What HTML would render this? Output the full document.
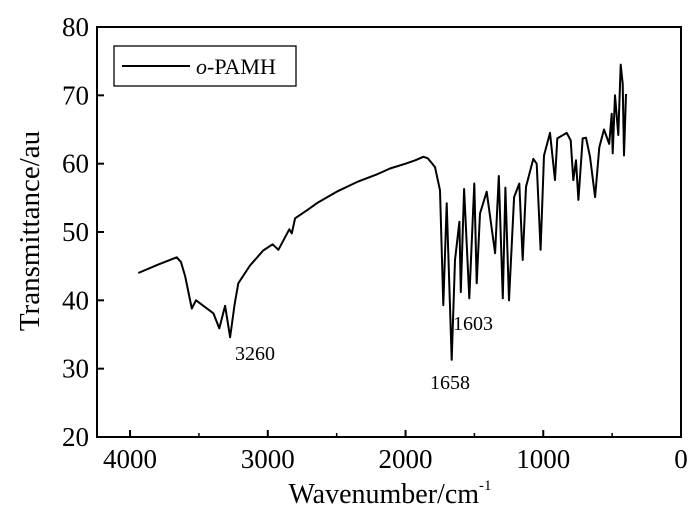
<!DOCTYPE html>
<html><head><meta charset="utf-8"><style>
html,body{margin:0;padding:0;background:#fff;}
svg{display:block;font-family:"Liberation Serif",serif;}
</style></head><body>
<svg id="chart" width="700" height="522" viewBox="0 0 700 522">
<g id="axes"></g>
<g id="series"></g>
<g>
<rect x="114" y="46" width="182" height="40" fill="#fff" stroke="#000" stroke-width="1.3"/>
<line x1="122" y1="66" x2="190" y2="66" stroke="#000" stroke-width="2"/>
<text x="196" y="74" font-size="22"><tspan font-style="italic">o</tspan>-PAMH</text>
</g>
<text x="235" y="360" font-size="20">3260</text>
<text x="430" y="389" font-size="20">1658</text>
<text x="453" y="330" font-size="20">1603</text>
<text transform="translate(39,231) rotate(-90)" text-anchor="middle" font-size="29">Transmittance/au</text>
<text x="390" y="503" text-anchor="middle" font-size="28">Wavenumber/cm<tspan font-size="15" dy="-13">-1</tspan></text>
</svg>
<script>
const xTicks=[4000,3000,2000,1000,0];
const yTicks=[20,30,40,50,60,70,80];
const wavenumbers=[3940,3800,3661,3630,3600,3552,3521,3395,3352,3310,3274,3240,3214,3129,3033,2965,2923,2844,2826,2802,2700,2645,2500,2354,2200,2113,2000,1930,1871,1840,1822,1786,1750,1726,1701,1665,1641,1609,1599,1575,1537,1501,1483,1459,1411,1350,1323,1294,1275,1249,1212,1174,1149,1125,1072,1048,1019,995,951,915,898,830,801,782,762,745,714,690,661,624,593,559,521,503,496,479,455,438,423,414,399];
const transmittance=[44.0,45.2,46.3,45.6,43.5,38.8,40.0,38.1,35.9,39.2,34.6,39.5,42.5,45.1,47.3,48.2,47.4,50.4,49.8,52.0,53.4,54.2,55.9,57.3,58.5,59.3,60.0,60.5,61.0,60.8,60.4,59.5,56.1,39.3,54.2,31.3,45.9,51.5,41.2,56.3,40.3,57.1,42.5,52.7,55.9,46.9,58.2,40.3,56.5,40.0,55.1,57.1,45.9,56.6,60.7,60.0,47.4,61.2,64.5,57.6,63.7,64.5,63.4,57.6,60.5,54.7,63.7,63.8,61.0,55.1,62.4,65.0,62.9,67.3,61.5,70.0,64.2,74.5,71.7,61.2,70.2];
const X0=97,X1=681,WMAX=4240,Y0=437,Y1=27,VMIN=20,VMAX=80;
function xs(w){return X1-(w/WMAX)*(X1-X0);}
function ys(v){return Y0-(v-VMIN)/(VMAX-VMIN)*(Y0-Y1);}
const NS="http://www.w3.org/2000/svg";
const axes=document.getElementById('axes');
function mk(tag,attrs,parent){const e=document.createElementNS(NS,tag);for(const k in attrs)e.setAttribute(k,attrs[k]);parent.appendChild(e);return e;}
const fr=mk('rect',{x:X0,y:Y1,width:X1-X0,height:Y0-Y1,fill:'none',stroke:'#000','stroke-width':2},axes);


xTicks.forEach(t=>{
 const l=mk('line',{x1:xs(t),x2:xs(t),y1:Y0,y2:Y0-7,stroke:'#000','stroke-width':2},axes);
 
 
 const tx=mk('text',{x:xs(t),y:Y0+31,'text-anchor':'middle','font-size':27},axes);
 tx.textContent=t;
 
 
});
for(let t=500;t<4000;t+=1000){
 const l=mk('line',{x1:xs(t),x2:xs(t),y1:Y0,y2:Y0-4,stroke:'#000','stroke-width':1.5},axes);
 
 
}
yTicks.forEach(t=>{
 const l=mk('line',{x1:X0,x2:X0+7,y1:ys(t),y2:ys(t),stroke:'#000','stroke-width':2},axes);
 
 
 const tx=mk('text',{x:X0-8,y:ys(t)+9,'text-anchor':'end','font-size':27},axes);
 tx.textContent=t;
 
 
});
const d=wavenumbers.map((w,i)=>(i?'L':'M')+xs(w).toFixed(1)+','+ys(transmittance[i]).toFixed(1)).join('');
const p=mk('path',{d:d,fill:'none',stroke:'#000','stroke-width':2,'stroke-linejoin':'round'},document.getElementById('series'));


</script>
</body></html>
